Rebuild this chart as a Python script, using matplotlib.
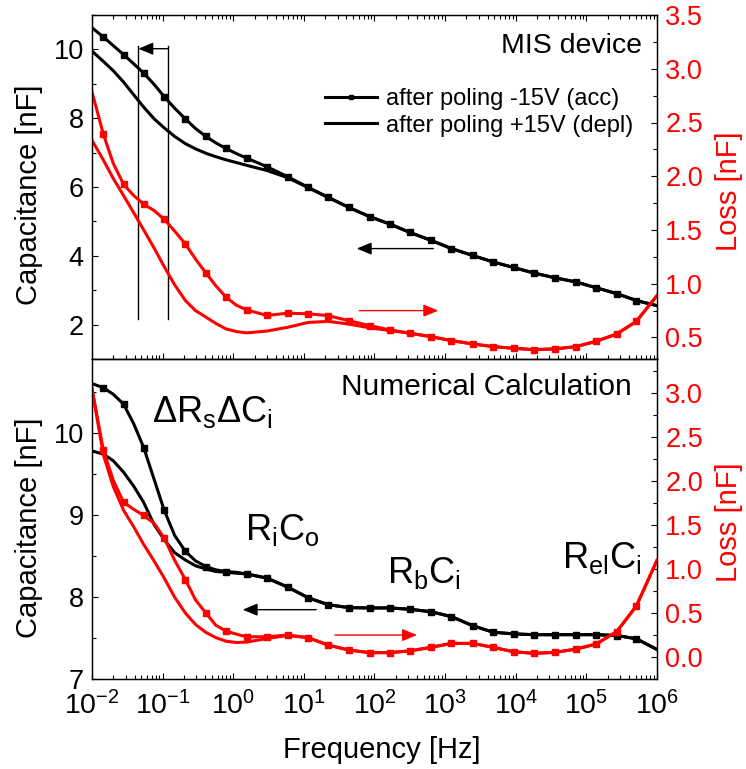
import matplotlib
matplotlib.use('Agg')
import matplotlib.pyplot as plt
from matplotlib.ticker import MultipleLocator, LogLocator, NullFormatter, FormatStrFormatter

plt.rcParams['font.family'] = ['Liberation Sans', 'DejaVu Sans']
plt.rcParams['mathtext.fontset'] = 'custom'
plt.rcParams['mathtext.rm'] = 'Liberation Sans'
plt.rcParams['mathtext.it'] = 'Liberation Sans:italic'
plt.rcParams['mathtext.default'] = 'regular'

RED = '#ff0000'

# frequency grid [Hz]
freq = [0.01, 0.0145, 0.020, 0.028, 0.039, 0.054, 0.076, 0.105, 0.148, 0.21,
        0.292, 0.41, 0.569, 0.79, 1.11, 1.55, 3.0, 5.9, 11.5, 22, 43, 85, 166,
        316, 630, 1230, 2450, 4800, 9300, 18000, 36000, 71000, 138000, 270000,
        510000, 1e6]
# frequencies where the measured points sit (square symbols)
marker_freq = [0.0145, 0.028, 0.054, 0.105, 0.21, 0.41, 0.79, 1.55, 3.0, 5.9,
               11.5, 22, 43, 85, 166, 316, 630, 1230, 2450, 4800, 9300, 18000,
               36000, 71000, 138000, 270000, 510000]

# MIS device
cap_acc_mis = [10.63, 10.36, 10.11, 9.85, 9.58, 9.31, 8.98, 8.63, 8.29, 7.98,
               7.70, 7.47, 7.28, 7.12, 6.97, 6.84, 6.59, 6.30, 5.99, 5.70,
               5.41, 5.14, 4.92, 4.68, 4.45, 4.21, 4.01, 3.82, 3.66, 3.50,
               3.36, 3.24, 3.07, 2.90, 2.70, 2.55]
cap_depl_mis = [9.95, 9.65, 9.38, 9.05, 8.68, 8.32, 7.98, 7.72, 7.47, 7.26,
                7.11, 6.98, 6.88, 6.79, 6.71, 6.63, 6.48, 6.27, 5.98, 5.70,
                5.41, 5.14, 4.92, 4.68, 4.45, 4.21, 4.01, 3.82, 3.66, 3.50,
                3.36, 3.24, 3.07, 2.90, 2.70, 2.55]
loss_acc_mis = [2.785, 2.39, 2.12, 1.925, 1.82, 1.74, 1.68, 1.60, 1.49, 1.37,
                1.23, 1.10, 0.98, 0.875, 0.80, 0.757, 0.705, 0.726, 0.72,
                0.704, 0.657, 0.611, 0.57, 0.54, 0.508, 0.471, 0.44, 0.415,
                0.40, 0.387, 0.394, 0.415, 0.465, 0.533, 0.65, 0.89]
loss_depl_mis = [2.335, 2.15, 1.98, 1.82, 1.66, 1.50, 1.33, 1.16, 0.99, 0.844,
                 0.75, 0.69, 0.63, 0.58, 0.555, 0.543, 0.56, 0.595, 0.64,
                 0.65, 0.625, 0.59, 0.565, 0.54, 0.508, 0.471, 0.44, 0.415,
                 0.40, 0.387, 0.394, 0.415, 0.465, 0.533, 0.65, 0.89]

# numerical calculation
cap_acc_num = [10.60, 10.55, 10.47, 10.35, 10.11, 9.82, 9.43, 9.06, 8.75,
               8.556, 8.44, 8.37, 8.33, 8.31, 8.30, 8.28, 8.23, 8.12, 7.99,
               7.906, 7.87, 7.866, 7.866, 7.85, 7.82, 7.76, 7.65, 7.57, 7.55,
               7.54, 7.54, 7.54, 7.54, 7.53, 7.49, 7.36]
cap_depl_num = [9.78, 9.74, 9.66, 9.52, 9.35, 9.15, 8.88, 8.70, 8.54, 8.45,
                8.38, 8.34, 8.31, 8.30, 8.29, 8.28, 8.23, 8.12, 7.99, 7.906,
                7.87, 7.866, 7.866, 7.85, 7.82, 7.76, 7.65, 7.57, 7.55, 7.54,
                7.54, 7.54, 7.54, 7.53, 7.49, 7.36]
loss_acc_num = [3.05, 2.35, 2.01, 1.76, 1.68, 1.61, 1.52, 1.355, 1.10, 0.88,
                0.65, 0.50, 0.36, 0.295, 0.26, 0.23, 0.23, 0.25, 0.22, 0.136,
                0.08, 0.05, 0.05, 0.07, 0.11, 0.155, 0.155, 0.11, 0.06, 0.042,
                0.053, 0.09, 0.148, 0.29, 0.58, 1.10]
loss_depl_num = [3.05, 2.30, 1.94, 1.67, 1.48, 1.28, 1.09, 0.90, 0.68, 0.50,
                 0.37, 0.28, 0.22, 0.18, 0.165, 0.17, 0.21, 0.245, 0.22, 0.136,
                 0.08, 0.05, 0.05, 0.07, 0.11, 0.155, 0.155, 0.11, 0.06, 0.042,
                 0.053, 0.09, 0.148, 0.29, 0.58, 1.10]

W, H = 746, 769
fig = plt.figure(figsize=(W / 100, H / 100), dpi=100)


def px_rect(left, top, right, bottom):
    return [left / W, 1 - bottom / H, (right - left) / W, (bottom - top) / H]


ax1 = fig.add_axes(px_rect(92, 15, 657, 359))
ax2 = fig.add_axes(px_rect(92, 359, 657, 679), sharex=ax1)
ax1r = ax1.twinx()
ax2r = ax2.twinx()

mark_idx = [i for i, f in enumerate(freq) if f in marker_freq]
mk = dict(marker='s', markersize=5, markevery=mark_idx)
lw = 2.2

ax1.plot(freq, cap_acc_mis, color='k', lw=lw, label='after poling -15V (acc)', **mk)
ax1.plot(freq, cap_depl_mis, color='k', lw=lw, label='after poling +15V (depl)')
ax1r.plot(freq, loss_acc_mis, color=RED, lw=lw, **mk)
ax1r.plot(freq, loss_depl_mis, color=RED, lw=lw)

ax2.plot(freq, cap_acc_num, color='k', lw=lw, **mk)
ax2.plot(freq, cap_depl_num, color='k', lw=lw)
ax2r.plot(freq, loss_acc_num, color=RED, lw=lw, **mk)
ax2r.plot(freq, loss_depl_num, color=RED, lw=lw)

ax1.set_xscale('log')
ax1.set_xlim(1e-2, 1e6)
ax1.set_ylim(1, 11)
ax1r.set_ylim(0.3, 3.5)
ax2.set_ylim(7, 10.9)
ax2r.set_ylim(-0.25, 3.39)

ax1.yaxis.set_major_locator(MultipleLocator(2))
ax1.yaxis.set_minor_locator(MultipleLocator(1))
ax2.yaxis.set_major_locator(MultipleLocator(1))
ax2.yaxis.set_minor_locator(MultipleLocator(0.5))
for a in (ax1r, ax2r):
    a.yaxis.set_major_locator(MultipleLocator(0.5))
    a.yaxis.set_minor_locator(MultipleLocator(0.25))
    a.yaxis.set_major_formatter(FormatStrFormatter('%.1f'))

ax2.xaxis.set_major_locator(LogLocator(base=10, numticks=20))
ax2.xaxis.set_minor_locator(LogLocator(base=10, subs=range(2, 10), numticks=100))
ax2.xaxis.set_minor_formatter(NullFormatter())

for a in (ax1, ax2, ax1r, ax2r):
    a.tick_params(which='major', direction='in', length=4.5, width=0.8,
                  labelsize=19.5, pad=6)
    a.tick_params(which='minor', direction='in', length=2.6, width=0.8)
    for s in a.spines.values():
        s.set_linewidth(0.9)
ax1.tick_params(axis='x', which='both', top=True, labelbottom=False)
ax2.tick_params(axis='x', which='both', top=False)
ax2.tick_params(axis='x', which='major', labelsize=20.5, pad=8.5)
for a in (ax1r, ax2r):
    a.tick_params(axis='y', labelcolor=RED)
    a.tick_params(axis='x', which='both', top=False, bottom=False)

for yc in (195, 528):
    fig.text(29 / W, 1 - yc / H, 'Capacitance [nF]', rotation=90,
             fontsize=21, ha='center', va='center')
for yc in (191, 522):
    fig.text(729 / W, 1 - yc / H, 'Loss [nF]', rotation=90, fontsize=21,
             color=RED, ha='center', va='center')
fig.text(382 / W, 1 - 758 / H, 'Frequency [Hz]', fontsize=21,
         ha='center', va='baseline')

ax1.text(0.973, 0.890, 'MIS device', transform=ax1.transAxes, fontsize=20.5,
         ha='right', va='baseline')
ax2.text(0.955, 0.8875, 'Numerical Calculation', transform=ax2.transAxes,
         fontsize=21.5, ha='right', va='baseline')

ax1.legend(loc='upper left', bbox_to_anchor=(325 / W, 1 - 88 / H),
           bbox_transform=fig.transFigure, frameon=False, fontsize=17,
           handlelength=2.2, handletextpad=0.38, labelspacing=0.2,
           borderpad=0, borderaxespad=0, markerscale=0.6)

# relaxation labels
ann = dict(transform=ax2.transAxes, fontsize=26, ha='left', va='baseline')
ax2.text(0.1057, 0.804, r'$\Delta R_s\Delta C_i$', **ann)
ax2.text(0.2708, 0.434, r'$R_iC_o$', **ann)
ax2.text(0.5216, 0.299, r'$R_bC_i$', **ann)
ax2.text(0.831, 0.347, r'$R_{el}C_i$', **ann)


def arrow(ax, tail, head, color):
    ax.annotate('', xy=head, xytext=tail,
                arrowprops=dict(arrowstyle='-|>,head_length=0.6,head_width=0.25',
                                color=color, lw=1.0, mutation_scale=15,
                                shrinkA=0, shrinkB=0))


# axis pointers
arrow(ax1, (680, 4.21), (56, 4.21), 'k')
arrow(ax1r, (61, 0.75), (800, 0.75), RED)
arrow(ax2, (15, 7.845), (1.36, 7.845), 'k')
arrow(ax2r, (27.5, 0.25), (400, 0.25), RED)

# bracket around the low-frequency dispersion
ax1.plot([0.0453, 0.0453], [2.17, 10.10], color='k', lw=1.0)
ax1.plot([0.1205, 0.1205], [2.17, 10.10], color='k', lw=1.0)
arrow(ax1, (0.1205, 10.02), (0.0453, 10.02), 'k')

fig.savefig('out.png', dpi=100)
